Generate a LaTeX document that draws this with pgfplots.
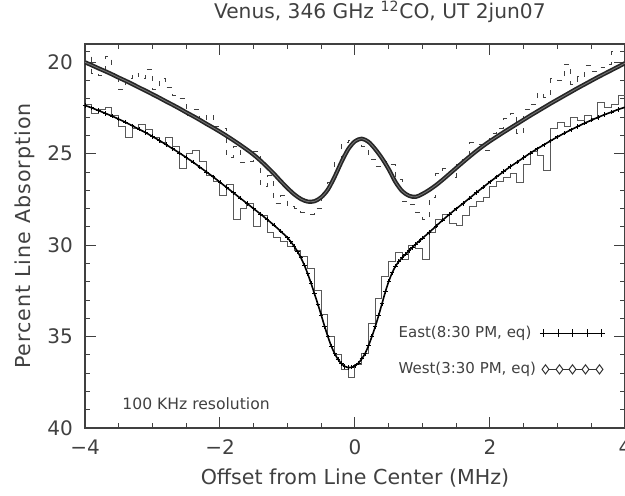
\documentclass[border=0pt]{standalone}
\usepackage{pgfplots}
\pgfplotsset{compat=1.18}
\usepackage{fontspec}
\setmainfont{DejaVu Sans}
\newfontfamily\labfont[LetterSpace=5]{DejaVu Sans}
\definecolor{ink}{gray}{0.25}
\begin{document}
\begin{tikzpicture}
\path[use as bounding box] (-42.5pt,-34pt) rectangle (270pt,214pt);
\begin{axis}[
  scale only axis, width=270pt, height=192pt,
  xmin=-4, xmax=4, ymin=19, ymax=40, y dir=reverse,
  xtick={-4,-2,0,2,4}, xticklabels={−4,−2,0,2,4},
  minor xtick={-3.5,-3,-2.5,-1.5,-1,-0.5,0.5,1,1.5,2.5,3,3.5},
  ytick={20,25,30,35,40}, yticklabels={20,25,30,35,40},
  minor ytick={21,22,23,24,26,27,28,29,31,32,33,34,36,37,38,39},
  tick align=inside, major tick length=5.5pt, minor tick length=2.6pt,
  every tick/.style={ink, line width=0.5pt},
  axis line style={ink, line width=0.6pt},
  ticklabel style={font=\fontsize{10}{12}\selectfont, text=ink},
  xticklabel style={yshift=-2.5pt},
  yticklabel style={xshift=-2.5pt},
  xlabel={Offset from Line Center (MHz)},
  ylabel={Percent Line Absorption},
  xlabel style={at={(axis description cs:0.5,-0.130)}, anchor=center, font=\fontsize{10.3}{12}\selectfont, text=ink},
  ylabel style={at={(axis description cs:-0.112,0.5)}, anchor=center, font=\labfont\fontsize{10.3}{12}\selectfont, text=ink},
  title={Venus, 346 GHz \textsuperscript{12}CO, UT 2jun07},
  title style={at={(0.546,1)}, anchor=center, yshift=10pt, font=\fontsize{10.1}{12}\selectfont, text=ink},
  legend plot pos=right, legend cell align=left,
  legend style={draw=none, fill=none, at={(axis description cs:0.975,0.288)}, anchor=north east,
    font=\fontsize{7.5}{9}\selectfont, text=ink, row sep=7pt},
]
% East data (histogram, solid)
\addplot[const plot, black!65, line width=0.5pt, forget plot] coordinates {
(-4.0,22.3) (-3.9,22.8) (-3.8,22.6) (-3.7,22.5) (-3.6,22.9) (-3.5,23.5) (-3.4,24.1) (-3.3,23.6) (-3.2,23.4) (-3.1,23.7)
(-3.0,24.1) (-2.9,24.4) (-2.8,24.1) (-2.7,24.6) (-2.6,25.8) (-2.5,25.0) (-2.4,24.8) (-2.3,25.4) (-2.2,26.2) (-2.1,26.5)
(-2.0,27.3) (-1.9,26.7) (-1.8,28.6) (-1.7,28.0) (-1.6,27.7) (-1.5,29.0) (-1.4,28.4) (-1.3,29.3) (-1.2,29.6) (-1.1,29.8)
(-1.0,30.1) (-0.9,30.3) (-0.8,30.6) (-0.7,31.3) (-0.6,32.5) (-0.5,33.8) (-0.4,35.0) (-0.3,36.0) (-0.2,36.8) (-0.1,37.25)
(0.0,36.5) (0.1,35.9) (0.2,34.3) (0.3,32.9) (0.4,31.7) (0.5,30.9) (0.6,30.4) (0.7,30.8) (0.8,30.0) (0.9,30.2)
(1.0,30.8) (1.1,29.3) (1.2,28.6) (1.3,28.3) (1.4,28.8) (1.5,28.9) (1.6,28.4) (1.7,27.9) (1.8,27.6) (1.9,27.4)
(2.0,26.8) (2.1,26.5) (2.2,26.3) (2.3,26.1) (2.4,26.6) (2.5,25.6) (2.6,24.9) (2.7,25.1) (2.8,25.9) (2.9,23.6)
(3.0,23.3) (3.1,23.5) (3.2,23.0) (3.3,23.2) (3.4,22.9) (3.5,23.1) (3.6,22.2) (3.7,22.5) (3.8,22.3) (3.9,21.8) (4.0,21.8)
};
% West data (histogram, dashed)
\addplot[const plot, black!75, line width=0.5pt, dash pattern=on 2.5pt off 3.5pt, forget plot] coordinates {
(-4.0,19.4) (-3.9,20.6) (-3.8,20.7) (-3.7,19.7) (-3.6,20.6) (-3.5,21.5) (-3.4,20.9) (-3.3,20.6) (-3.2,20.9) (-3.1,20.4)
(-3.0,21.5) (-2.9,20.9) (-2.8,21.4) (-2.7,21.8) (-2.6,22.0) (-2.5,22.9) (-2.4,22.6) (-2.3,23.2) (-2.2,22.9) (-2.1,23.5)
(-2.0,23.6) (-1.9,25.2) (-1.8,24.6) (-1.7,25.5) (-1.6,25.4) (-1.5,24.9) (-1.4,26.8) (-1.3,26.2) (-1.2,27.7) (-1.1,27.3)
(-1.0,27.9) (-0.9,28.0) (-0.8,28.2) (-0.7,28.3) (-0.6,28.0) (-0.5,27.1) (-0.4,26.6) (-0.3,25.4) (-0.2,24.4) (-0.1,24.3)
(0.0,24.2) (0.1,24.6) (0.2,25.3) (0.3,25.7) (0.4,25.4) (0.5,25.6) (0.6,26.4) (0.7,27.6) (0.8,27.8) (0.9,28.2)
(1.0,28.6) (1.1,27.4) (1.2,26.1) (1.3,25.8) (1.4,26.3) (1.5,25.6) (1.6,25.3) (1.7,24.4) (1.8,24.5) (1.9,24.8)
(2.0,23.9) (2.1,23.6) (2.2,23.1) (2.3,22.8) (2.4,23.9) (2.5,22.6) (2.6,22.3) (2.7,21.7) (2.8,21.9) (2.9,20.9)
(3.0,21.0) (3.1,20.1) (3.2,21.2) (3.3,20.8) (3.4,20.2) (3.5,20.5) (3.6,20.3) (3.7,20.1) (3.8,19.4) (3.9,19.4) (4.0,19.4)
};
% East model (+)
\addplot[black, line width=0.8pt, smooth, mark=+, mark size=1.1pt, mark options={line width=0.45pt},
  legend image code/.code={\draw[black, line width=0.5pt] (0pt,0pt) -- (30pt,0pt);
    \draw[black, line width=0.5pt, only marks, mark=+, mark size=1.8pt] plot coordinates {(0.5pt,0pt) (7.75pt,0pt) (15pt,0pt) (22.25pt,0pt) (29.5pt,0pt)};}
] coordinates {
(-4.0,22.36) (-3.9,22.49) (-3.8,22.64) (-3.7,22.79) (-3.6,22.94) (-3.5,23.11) (-3.4,23.28) (-3.3,23.47) (-3.2,23.66) (-3.1,23.85)
(-3.0,24.06) (-2.9,24.27) (-2.8,24.50) (-2.7,24.73) (-2.6,24.96) (-2.5,25.21) (-2.4,25.46) (-2.3,25.73) (-2.2,26.00) (-2.1,26.27)
(-2.0,26.56) (-1.9,26.85) (-1.8,27.14) (-1.7,27.43) (-1.6,27.72) (-1.5,28.01) (-1.4,28.30) (-1.3,28.60) (-1.2,28.91) (-1.1,29.24)
(-1.0,29.60) (-0.95,29.82) (-0.9,30.07) (-0.85,30.36) (-0.8,30.70) (-0.75,31.10) (-0.7,31.57) (-0.65,32.10) (-0.6,32.66) (-0.55,33.23)
(-0.5,33.83) (-0.45,34.44) (-0.4,35.02) (-0.35,35.53) (-0.3,35.94) (-0.25,36.25) (-0.2,36.48) (-0.15,36.63) (-0.1,36.70) (-0.05,36.68)
(0.0,36.60) (0.05,36.45) (0.1,36.22) (0.15,35.92) (0.2,35.50) (0.25,35.00) (0.3,34.45) (0.35,33.85) (0.4,33.20) (0.45,32.55)
(0.5,31.98) (0.55,31.52) (0.6,31.15) (0.65,30.90) (0.7,30.68) (0.75,30.50) (0.8,30.30) (0.85,30.12) (0.9,29.95) (0.95,29.78)
(1.0,29.62) (1.1,29.30) (1.2,28.96) (1.3,28.63) (1.4,28.31) (1.5,28.01) (1.6,27.72) (1.7,27.42) (1.8,27.12) (1.9,26.83)
(2.0,26.54) (2.1,26.26) (2.2,25.98) (2.3,25.71) (2.4,25.46) (2.5,25.21) (2.6,24.96) (2.7,24.73) (2.8,24.51) (2.9,24.29)
(3.0,24.08) (3.1,23.88) (3.2,23.69) (3.3,23.51) (3.4,23.33) (3.5,23.17) (3.6,23.01) (3.7,22.86) (3.8,22.72) (3.9,22.58) (4.0,22.46)
};
\addlegendentry{East(8:30 PM, eq)}
% West model (diamonds, drawn as a thick band)
\addplot[black!85, line width=2.1pt, smooth,
  legend image code/.code={\draw[black!80, line width=0.5pt] (0pt,0pt) -- (30pt,0pt);
    \draw[black!80, line width=0.5pt, only marks, mark=diamond*, mark size=2.3pt, mark options={fill=white}] plot coordinates {(1.5pt,0pt) (8.5pt,0pt) (15pt,0pt) (21.5pt,0pt) (28.5pt,0pt)};}
] coordinates {
(-4.0,20.00) (-3.9,20.16) (-3.8,20.33) (-3.7,20.49) (-3.6,20.66) (-3.5,20.84) (-3.4,21.01) (-3.3,21.19) (-3.2,21.38) (-3.1,21.56)
(-3.0,21.75) (-2.9,21.94) (-2.8,22.14) (-2.7,22.33) (-2.6,22.53) (-2.5,22.74) (-2.4,22.94) (-2.3,23.15) (-2.2,23.37) (-2.1,23.58)
(-2.0,23.80) (-1.9,24.03) (-1.8,24.27) (-1.7,24.52) (-1.6,24.78) (-1.5,25.06) (-1.4,25.38) (-1.3,25.73) (-1.2,26.10) (-1.1,26.50)
(-1.0,26.88) (-0.9,27.22) (-0.8,27.48) (-0.7,27.62) (-0.6,27.60) (-0.5,27.38) (-0.4,26.95) (-0.3,26.25) (-0.2,25.45) (-0.1,24.75)
(0.0,24.32) (0.1,24.18) (0.2,24.35) (0.3,24.75) (0.4,25.25) (0.5,25.85) (0.6,26.55) (0.7,27.05) (0.8,27.30) (0.9,27.36)
(1.0,27.20) (1.1,26.98) (1.2,26.72) (1.3,26.42) (1.4,26.10) (1.5,25.78) (1.6,25.46) (1.7,25.15) (1.8,24.85) (1.9,24.57)
(2.0,24.31) (2.1,24.07) (2.2,23.83) (2.3,23.60) (2.4,23.37) (2.5,23.14) (2.6,22.91) (2.7,22.69) (2.8,22.47) (2.9,22.25)
(3.0,22.04) (3.1,21.83) (3.2,21.62) (3.3,21.41) (3.4,21.21) (3.5,21.01) (3.6,20.81) (3.7,20.62) (3.8,20.43) (3.9,20.24) (4.0,20.05)
};
\addlegendentry{West(3:30 PM, eq)}
\addplot[black!55, line width=0.45pt, smooth, forget plot] coordinates {
(-4.0,20.00) (-3.9,20.16) (-3.8,20.33) (-3.7,20.49) (-3.6,20.66) (-3.5,20.84) (-3.4,21.01) (-3.3,21.19) (-3.2,21.38) (-3.1,21.56)
(-3.0,21.75) (-2.9,21.94) (-2.8,22.14) (-2.7,22.33) (-2.6,22.53) (-2.5,22.74) (-2.4,22.94) (-2.3,23.15) (-2.2,23.37) (-2.1,23.58)
(-2.0,23.80) (-1.9,24.03) (-1.8,24.27) (-1.7,24.52) (-1.6,24.78) (-1.5,25.06) (-1.4,25.38) (-1.3,25.73) (-1.2,26.10) (-1.1,26.50)
(-1.0,26.88) (-0.9,27.22) (-0.8,27.48) (-0.7,27.62) (-0.6,27.60) (-0.5,27.38) (-0.4,26.95) (-0.3,26.25) (-0.2,25.45) (-0.1,24.75)
(0.0,24.32) (0.1,24.18) (0.2,24.35) (0.3,24.75) (0.4,25.25) (0.5,25.85) (0.6,26.55) (0.7,27.05) (0.8,27.30) (0.9,27.36)
(1.0,27.20) (1.1,26.98) (1.2,26.72) (1.3,26.42) (1.4,26.10) (1.5,25.78) (1.6,25.46) (1.7,25.15) (1.8,24.85) (1.9,24.57)
(2.0,24.31) (2.1,24.07) (2.2,23.83) (2.3,23.60) (2.4,23.37) (2.5,23.14) (2.6,22.91) (2.7,22.69) (2.8,22.47) (2.9,22.25)
(3.0,22.04) (3.1,21.83) (3.2,21.62) (3.3,21.41) (3.4,21.21) (3.5,21.01) (3.6,20.81) (3.7,20.62) (3.8,20.43) (3.9,20.24) (4.0,20.05)
};
\node[anchor=west, font=\fontsize{7.8}{9}\selectfont, text=ink] at (axis cs:-3.55,38.68) {100 KHz resolution};
\end{axis}
\end{tikzpicture}
\end{document}
